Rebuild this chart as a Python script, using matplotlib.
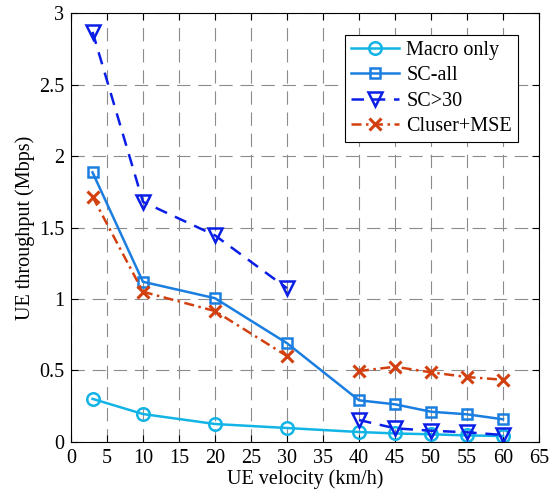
import matplotlib.pyplot as plt
import numpy as np

plt.rcParams['font.family'] = ['Liberation Serif', 'DejaVu Serif']

# Velocity (km/h)
velocity = [3, 10, 20, 30, 40, 45, 50, 55, 60]
velocity_low = [3, 10, 20, 30]
velocity_high = [40, 45, 50, 55, 60]

macro_only = [0.30, 0.194, 0.124, 0.096, 0.068, 0.058, 0.052, 0.044, 0.04]
sc_all = [1.886, 1.12, 1.005, 0.69, 0.29, 0.262, 0.21, 0.192, 0.157]
sc30_low = [2.87, 1.68, 1.445, 1.075]
sc30_high = [0.152, 0.094, 0.077, 0.066, 0.047]
cluster_low = [1.716, 1.05, 0.915, 0.60]
cluster_high = [0.495, 0.525, 0.486, 0.453, 0.434]

c_macro = '#12b4e6'
c_scall = '#1a7ee0'
c_sc30 = '#0a1ee6'
c_clus = '#d2400f'

fig = plt.figure(figsize=(5.5, 4.99), dpi=100)
ax = fig.add_axes([0.129, 0.1148, 0.851, 0.8585])

lw = 1.8
dash = (0, (5, 3.5))
dashdot = (0, (4, 1.8, 1, 1.8))
ax.plot(velocity, macro_only, color=c_macro, lw=lw, marker='o', ms=9,
        mfc='none', mew=1.8, label='Macro only')
ax.plot(velocity, sc_all, color=c_scall, lw=lw, marker='s', ms=7.5,
        mfc='none', mew=1.8, label='SC-all')
ax.plot(velocity_low, sc30_low, color=c_sc30, lw=lw, ls=dash, marker='v',
        ms=10.5, mfc='none', mew=1.8, label='SC>30')
ax.plot(velocity_high, sc30_high, color=c_sc30, lw=lw, ls=dash, marker='v',
        ms=10.5, mfc='none', mew=1.8)
ax.plot(velocity_low, cluster_low, color=c_clus, lw=lw, ls=dashdot,
        marker='x', ms=8, mew=2.2, label='Cluser+MSE')
ax.plot(velocity_high, cluster_high, color=c_clus, lw=lw, ls=dashdot,
        marker='x', ms=8, mew=2.2)

ax.set_xlim(0, 65)
ax.set_ylim(0, 3)
ax.set_xticks(np.arange(0, 66, 5))
ax.set_yticks([0, 0.5, 1, 1.5, 2, 2.5, 3])
ax.set_yticklabels(['0', '0.5', '1', '1.5', '2', '2.5', '3'])
ax.tick_params(direction='in', top=True, right=True, labelsize=14.5, length=5,
               width=0.8, pad=5)
ax.grid(True, color='#8c8c8c', ls=(0, (12, 7)), lw=0.8)
for s in ax.spines.values():
    s.set_linewidth(0.8)

ax.set_xlabel('UE velocity (km/h)', fontsize=14.5, labelpad=1)
ax.set_ylabel('UE throughput (Mbps)', fontsize=14.5, labelpad=3)

leg = ax.legend(loc='upper right', bbox_to_anchor=(0.955, 0.949), fontsize=14.5,
                frameon=True, fancybox=False, edgecolor='black', framealpha=1,
                handlelength=2.4, borderpad=0.3, labelspacing=0.3,
                handletextpad=0.35, borderaxespad=0)
leg.get_frame().set_linewidth(0.8)

fig.savefig('out.png', dpi=100)
